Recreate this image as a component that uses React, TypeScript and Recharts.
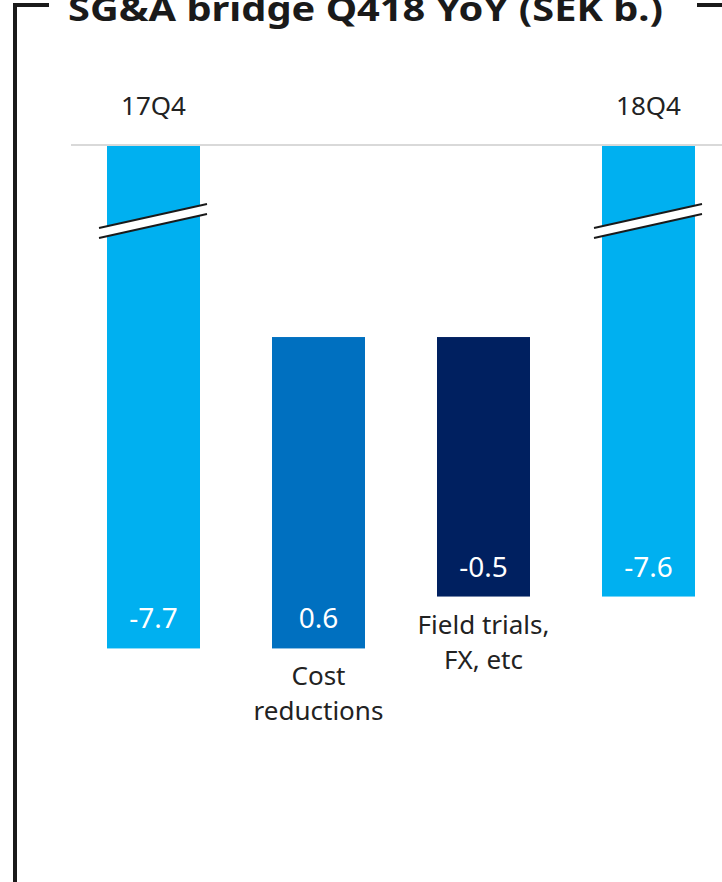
import React from "react";
import { BarChart, Bar, XAxis, YAxis, Cell, LabelList } from "recharts";

// bridge steps, top to bottom as they appear left to right
const categoryLines: string[][] = [
  ["17Q4"],
  ["Cost", "reductions"],
  ["Field trials,", "FX, etc"],
  ["18Q4"],
];
const values = [-7.7, 0.6, -0.5, -7.6];
const isTotal = [true, false, false, true];

// the axis is broken: totals are cut at this level
const BREAK_LEVEL = -6.73;
const DOMAIN_MIN = -8.15;

const COLOR_TOTAL = "#00B0F0";
const COLOR_UP = "#0070C0";
const COLOR_DOWN = "#002060";

const buildData = () => {
  let running = 0;
  return values.map((v, i) => {
    let range: [number, number];
    if (isTotal[i]) {
      range = [v, BREAK_LEVEL];
      running = v;
    } else {
      range = [running, running + v];
      running = running + v;
    }
    return {
      name: categoryLines[i].join(" "),
      lines: categoryLines[i],
      value: v,
      range,
      total: isTotal[i],
    };
  });
};

const data = buildData();

const BridgeBar = (props: any) => {
  const { x, y, width, height, fill, payload } = props;
  const top = Math.min(y, y + height);
  const h = Math.abs(height);
  const l = x - 8;
  const r = x + width + 7;
  return (
    <g>
      <rect x={x} y={top} width={width} height={h} fill={fill} />
      {payload && payload.total && (
        <g>
          <polygon
            points={`${l},${top + 83} ${r},${top + 59} ${r},${top + 69} ${l},${top + 93}`}
            fill="#fff"
          />
          <line x1={l} y1={top + 83} x2={r} y2={top + 59} stroke="#1a1a1a" strokeWidth={2} />
          <line x1={l} y1={top + 93} x2={r} y2={top + 69} stroke="#1a1a1a" strokeWidth={2} />
        </g>
      )}
    </g>
  );
};

const TopTick = (props: any) => {
  const { x, y, index } = props;
  const d = data[index];
  if (!d || !d.total) return <g />;
  return (
    <text
      x={x}
      y={y - 22}
      textAnchor="middle"
      fontFamily="Noto Sans"
      fontSize={26}
      fill="#222"
    >
      {d.name}
    </text>
  );
};

const ValueLabel = (props: any) => {
  const { x, y, width, height, value } = props;
  const bottom = Math.max(y, y + height);
  return (
    <text
      x={x + width / 2}
      y={bottom - 20}
      textAnchor="middle"
      fontFamily="Noto Sans"
      fontSize={28}
      fill="#fff"
    >
      {value.toFixed(1)}
    </text>
  );
};

const StepLabel = (props: any) => {
  const { x, y, width, height, index } = props;
  const d = data[index];
  if (!d || d.total) return <g />;
  const bottom = Math.max(y, y + height);
  return (
    <text
      textAnchor="middle"
      fontFamily="Noto Sans"
      fontSize={26}
      fill="#222"
    >
      {d.lines.map((ln: string, i: number) => (
        <tspan key={i} x={x + width / 2} y={bottom + 37 + i * 35}>
          {ln}
        </tspan>
      ))}
    </text>
  );
};

const App = () => {
  return (
    <div
      style={{
        position: "absolute",
        left: 0,
        top: 0,
        width: 722,
        height: 882,
        overflow: "hidden",
        background: "#fff",
      }}
    >
      <BarChart
        width={740}
        height={882}
        data={data}
        margin={{ top: 80, right: 9, left: 71, bottom: 0 }}
      >
        <XAxis
          dataKey="name"
          orientation="top"
          height={65}
          axisLine={{ stroke: "#d9d9d9", strokeWidth: 2 }}
          tickLine={false}
          tick={<TopTick />}
          interval={0}
        />
        <YAxis hide width={0} domain={[DOMAIN_MIN, BREAK_LEVEL]} allowDataOverflow />
        <Bar dataKey="range" barSize={93} shape={<BridgeBar />} isAnimationActive={false}>
          {data.map((d, i) => (
            <Cell
              key={i}
              fill={d.total ? COLOR_TOTAL : d.value >= 0 ? COLOR_UP : COLOR_DOWN}
            />
          ))}
          <LabelList dataKey="value" content={<ValueLabel />} />
          <LabelList dataKey="name" content={<StepLabel />} />
        </Bar>
      </BarChart>
      <svg
        width={722}
        height={882}
        style={{ position: "absolute", left: 0, top: 0, pointerEvents: "none" }}
      >
        <rect x={13} y={3} width={4} height={879} fill="#1a1a1a" />
        <rect x={13} y={3} width={36} height={4} fill="#1a1a1a" />
        <rect x={697} y={3} width={25} height={4} fill="#1a1a1a" />
        <text
          x={68}
          y={21}
          fontFamily="Noto Sans"
          fontWeight="bold"
          fontSize={34}
          fill="#1a1a1a"
          textLength={595}
          lengthAdjust="spacingAndGlyphs"
        >
          SG&amp;A bridge Q418 YoY (SEK b.)
        </text>
      </svg>
    </div>
  );
};

export default App;
